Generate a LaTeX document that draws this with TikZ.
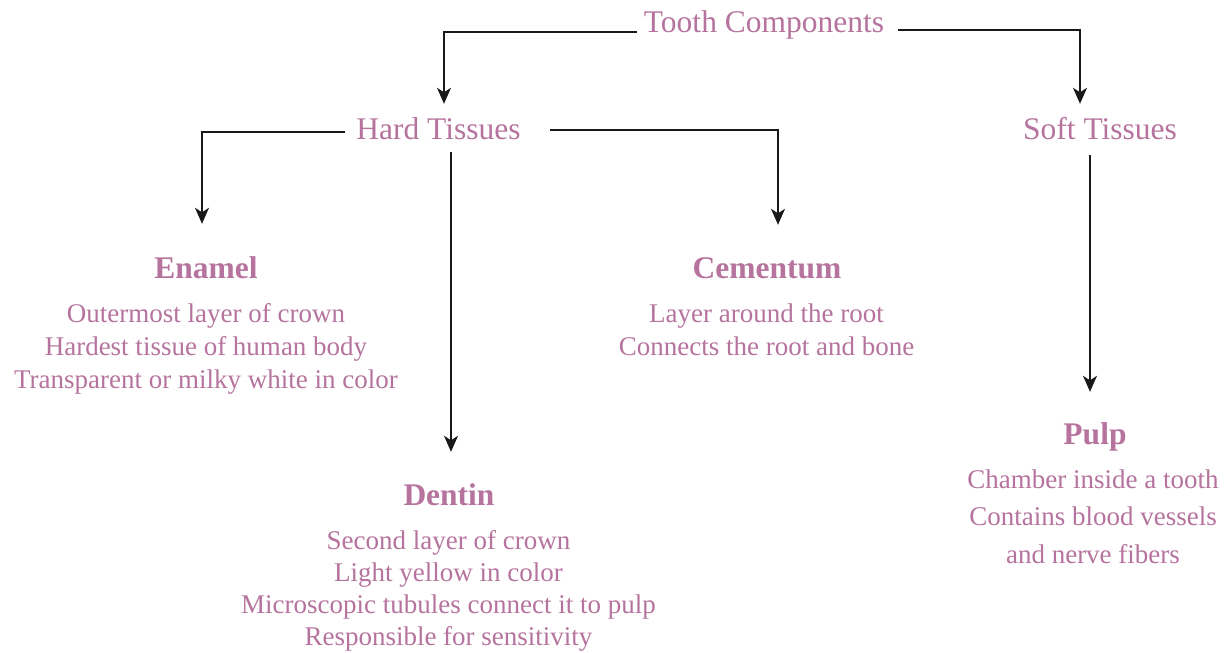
\documentclass[tikz,border=0pt]{standalone}
\usepackage{fontspec}
\setmainfont{Liberation Serif}
\usetikzlibrary{arrows.meta}
\definecolor{mauve}{RGB}{181,115,157}
\newcommand\bodylines[2]{\fontsize{27}{#1}\selectfont\begin{tabular}[t]{@{}c@{}}#2\end{tabular}}
\begin{document}
\begin{tikzpicture}[x=1pt,y=-1pt,
  head/.style={anchor=base,inner sep=0pt,text height=22pt,text depth=7pt,text=mauve,font=\fontsize{31.5}{36}\selectfont},
  boldhead/.style={head,font=\fontsize{31.5}{36}\selectfont\bfseries},
  body/.style={anchor=base,inner sep=0pt,text=mauve},
  arr/.style={draw=black!90,line width=1.5pt,-{Stealth[length=16pt,width=14pt,inset=4.5pt]}}]
\useasboundingbox (0,0) rectangle (1226,653);

% headers
\node[head] (tc) at (764,32) {Tooth Components};
\node[head] (ht) at (438.5,139) {Hard Tissues};
\node[head] (st) at (1100,139) {Soft Tissues};

\node[boldhead] (en) at (206,278) {Enamel};
\node[boldhead] (cm) at (767,278) {Cementum};
\node[boldhead] (dn) at (449,505) {Dentin};
\node[boldhead] (pu) at (1095,444) {Pulp};

% bodies
\node[body] (enb) at (206,322) {\bodylines{33}{Outermost layer of crown\\Hardest tissue of human body\\Transparent or milky white in color}};
\node[body] (cmb) at (766.5,322) {\bodylines{33}{Layer around the root\\Connects the root and bone}};
\node[body] (dnb) at (448.5,549) {\bodylines{32.2}{Second layer of crown\\Light yellow in color\\Microscopic tubules connect it to pulp\\Responsible for sensitivity}};
\node[body] (pub) at (1093,488) {\bodylines{37.5}{Chamber inside a tooth\\Contains blood vessels\\and nerve fibers}};

% connectors
\draw[arr] ([xshift=-7pt]tc.base west) -| ([xshift=5.5pt,yshift=13pt]ht.north);
\draw[arr] ([xshift=14pt,yshift=2pt]tc.base east) -| ([xshift=-20pt,yshift=13pt]st.north);
\draw[arr] ([xshift=-11pt,yshift=7pt]ht.base west) -| ([xshift=-4pt,yshift=32pt]en.north);
\draw[arr] ([xshift=29pt,yshift=9pt]ht.base east) -| ([xshift=11pt,yshift=31pt]cm.north);
\draw[arr] ([xshift=12.5pt,yshift=-6pt]ht.south) -- ([xshift=2pt,yshift=31pt]dn.north);
\draw[arr] ([xshift=-10pt,yshift=-9pt]st.south) -- ([xshift=-5pt,yshift=30pt]pu.north);
\end{tikzpicture}
\end{document}
